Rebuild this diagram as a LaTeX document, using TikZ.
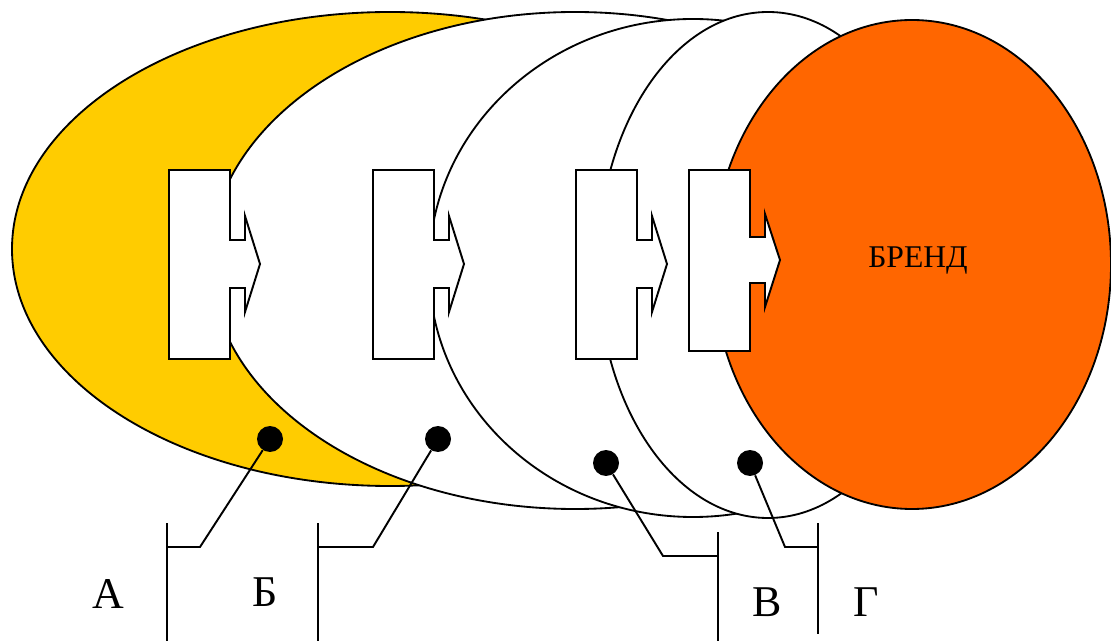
\documentclass[tikz,border=0pt]{standalone}
\usepackage{fontspec}
\setmainfont{Liberation Serif}
\usepackage{tikz}
\usetikzlibrary{positioning}
\usepackage{xcolor}
\definecolor{brandyellow}{RGB}{255,204,0}
\definecolor{brandorange}{RGB}{255,102,0}
\tikzstyle{layer} = [draw=black, line width=1.05pt]
\tikzstyle{plug} = [draw=black, fill=white, line width=1.1pt, line join=miter]
\tikzstyle{blob} = [circle, fill=black, inner sep=0pt, minimum size=0.52cm]
\tikzstyle{leader} = [line width=1.1pt]
\tikzstyle{letter} = [inner sep=0pt, font=\fontsize{25}{28}\selectfont]

\begin{document}
\begin{tikzpicture}[x=0.02cm,y=-0.02cm]
\useasboundingbox (0,0) rectangle (1111,641);

% Layers
\draw[layer, fill=brandyellow] (390,249) ellipse [x radius=378, y radius=237];
\draw[layer, fill=white] (575,260.5) ellipse [x radius=365, y radius=248.5];
\draw[layer, fill=white] (693,268) ellipse [x radius=264, y radius=249];
\draw[layer, fill=white] (768,265) ellipse [x radius=170, y radius=253];
\draw[layer, fill=brandorange] (912,264.5) ellipse [x radius=199, y radius=244.5];
\node[inner sep=0pt, font=\fontsize{18}{20}\selectfont] (brand) at (918,261) {БРЕНД};

% Plugs
\foreach \bx in {169,373,576}
  \draw[plug] (\bx,170) -- ++(61,0) -- ++(0,70) -- ++(15,0) -- ++(0,-24) -- ++(15,48)
    -- ++(-15,48) -- ++(0,-24) -- ++(-15,0) -- ++(0,71) -- ++(-61,0) -- cycle;
\draw[plug] (689,170) -- ++(61,0) -- ++(0,67) -- ++(15,0) -- ++(0,-23) -- ++(15,46)
  -- ++(-15,47) -- ++(0,-24) -- ++(-15,0) -- ++(0,68) -- ++(-61,0) -- cycle;

% Dots
\node[blob] (dA) at (270,439) {};
\node[blob] (dB) at (438,439) {};
\node[blob] (dV) at (606,463) {};
\node[blob] (dG) at (750,463) {};

% Bars
\coordinate (tA) at (167,523); \coordinate (bA) at (167,641);
\coordinate (tB) at (318,523); \coordinate (bB) at (318,641);
\coordinate (tV) at (718,532); \coordinate (bV) at (718,641);
\coordinate (tG) at (818,523); \coordinate (bG) at (818,634);
\draw[leader] (tA) -- (bA);
\draw[leader] (tB) -- (bB);
\draw[leader] (tV) -- (bV);
\draw[leader] (tG) -- (bG);

% Leaders
\coordinate (kA) at (200,547); \coordinate (jA) at (167,547);
\coordinate (kB) at (373,547); \coordinate (jB) at (318,547);
\coordinate (kV) at (663,556); \coordinate (jV) at (718,556);
\coordinate (kG) at (785,547); \coordinate (jG) at (818,547);
\draw[leader] (dA) -- (kA) -- (jA);
\draw[leader] (dB) -- (kB) -- (jB);
\draw[leader] (dV) -- (kV) -- (jV);
\draw[leader] (dG) -- (kG) -- (jG);

% Letters
\node[letter] (lA) at (108,594) {А};
\node[letter] (lB) at (265,592) {Б};
\node[letter] (lV) at (767,602) {В};
\node[letter] (lG) at (866,602) {Г};
\end{tikzpicture}
\end{document}
